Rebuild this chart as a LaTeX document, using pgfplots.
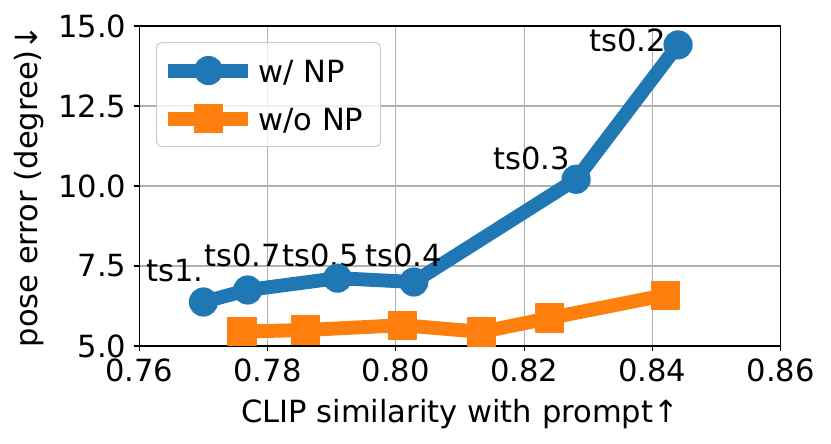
\documentclass[border=0pt]{standalone}
\usepackage{fontspec}
\setmainfont{DejaVu Sans}
\usepackage{pgfplots}
\pgfplotsset{compat=1.18}
\usetikzlibrary{calc}
\definecolor{mblue}{HTML}{1F77B4}
\definecolor{morange}{HTML}{FF7F0E}
\definecolor{mgrid}{HTML}{B0B0B0}
\definecolor{mleg}{HTML}{CCCCCC}
\newcommand{\bigf}{\fontsize{30.56bp}{36bp}\selectfont}
\begin{document}
\begin{tikzpicture}
\begin{axis}[
  name=ax,
  scale only axis, width=641.4bp, height=320bp,
  xmin=0.76, xmax=0.86, ymin=5, ymax=15,
  xtick={0.76,0.78,0.80,0.82,0.84,0.86},
  xticklabels={0.76,0.78,0.80,0.82,0.84,0.86},
  ytick={5,7.5,10,12.5,15},
  yticklabels={5.0,7.5,10.0,12.5,15.0},
  xtick pos=lower, ytick pos=left,
  tick align=outside, major tick length=4.9bp,
  tick style={black, line width=1.1bp},
  axis line style={black, line width=1.1bp},
  grid=major, major grid style={mgrid, line width=1.1bp},
  font=\bigf,
  xticklabel style={inner sep=0pt, anchor=north, yshift=-8bp},
  yticklabel style={inner sep=0pt, anchor=east, xshift=-8bp},
  xlabel={CLIP similarity with prompt↑},
  ylabel={pose error (degree)↓},
  xlabel style={at={(axis description cs:0.5,-0.2397)}, anchor=base, inner sep=0pt},
  ylabel style={at={(axis description cs:-0.1587,0.5)}, anchor=base, rotate=0, inner sep=0pt},
  clip=false,
  legend cell align=left,
  legend image code/.code={\draw[mark repeat=2,mark phase=2,#1,fill opacity=1,draw opacity=1] plot coordinates {(0bp,0bp) (40bp,0bp) (80bp,0bp)};},
  legend style={at={(axis description cs:0.026,0.95)}, anchor=north west,
    draw=mleg, line width=1.1bp, rounded corners=5bp, fill=white, fill opacity=0.8, text opacity=1,
    font=\bigf,
    nodes={inner sep=0pt, font=\bigf, text height=27bp, text depth=2.2bp},
    inner xsep=5bp, inner ysep=13.4bp, row sep=18.8bp, column sep=3bp},
]
\addplot[color=mblue, line width=13.9bp, line join=round, mark=*, mark size=13.9bp,
  mark options={solid, fill=mblue, draw=mblue, line width=1.4bp}]
  coordinates {(0.7700,6.375) (0.7769,6.75) (0.7909,7.12) (0.8028,7.0) (0.8281,10.21) (0.8440,14.41)};
\addlegendentry{w/ NP}
\addplot[color=morange, line width=13.9bp, line join=round, mark=square*, mark size=13.9bp,
  mark options={solid, fill=morange, draw=morange, line width=1.4bp}]
  coordinates {(0.7760,5.45) (0.7859,5.5) (0.8010,5.65) (0.8134,5.44) (0.8240,5.875) (0.8420,6.59)};
\addlegendentry{\makebox[117bp][l]{w/o NP}}
\node[anchor=base west, inner sep=0pt] at (axis cs:0.76104,7.03) {ts1.};
\node[anchor=base west, inner sep=0pt] at (axis cs:0.77009,7.5) {ts0.7};
\node[anchor=base west, inner sep=0pt] at (axis cs:0.78225,7.5) {ts0.5};
\node[anchor=base west, inner sep=0pt] at (axis cs:0.79519,7.5) {ts0.4};
\node[anchor=base west, inner sep=0pt] at (axis cs:0.81515,10.5) {ts0.3};
\node[anchor=base west, inner sep=0pt] at (axis cs:0.83011,14.19) {ts0.2};
\end{axis}
\pgfresetboundingbox
\useasboundingbox ($(ax.south west)+(-139.3bp,-98bp)$) rectangle ($(ax.north east)+(50.3bp,26bp)$);
\end{tikzpicture}
\end{document}
